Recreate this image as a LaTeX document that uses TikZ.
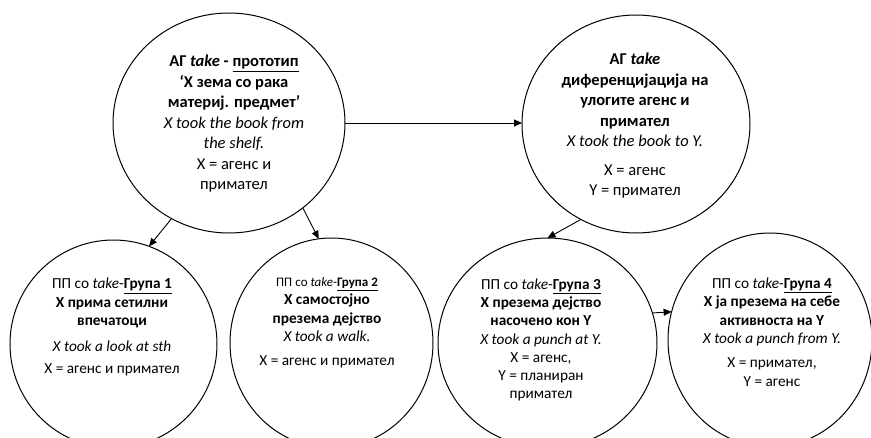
\documentclass[tikz,border=0pt]{standalone}
\usepackage{fontspec}
\setmainfont{Carlito}
\usetikzlibrary{shapes.geometric,arrows.meta}
\begin{document}
\begin{tikzpicture}[x=1pt,y=-1pt,
  bub/.style={draw, ellipse, line width=1pt, outer sep=0pt, inner sep=0pt},
  arr/.style={line width=0.9pt, -{Triangle[length=8pt,width=7pt]}},
  txtop/.style={align=center, font=\fontsize{16.5}{20.5}\selectfont, inner sep=0pt},
  txbot/.style={align=center, font=\fontsize{15.3}{18.3}\selectfont, inner sep=0pt}]
\useasboundingbox (0,0) rectangle (871,437);
\begin{scope}
\clip (0,0) rectangle (871,437);
\node[bub, minimum width=232pt, minimum height=220pt] (c1) at (229,123) {};
\node[bub, minimum width=228pt, minimum height=218pt] (c2) at (636,124) {};
\node[bub, minimum width=207pt, minimum height=208pt] (g1) at (113.5,344) {};
\node[bub, minimum width=203pt, minimum height=210pt] (g2) at (331.5,343) {};
\node[bub, minimum width=219pt, minimum height=210pt] (g3) at (547.5,343) {};
\node[bub, minimum width=204pt, minimum height=214pt] (g4) at (770,340) {};
\end{scope}

\node[txtop] (t1) at (234,124) {\textbf{АГ \textit{take} - \underline{прототип}}\\
\textbf{‘X зема со рака}\\
\textbf{материј. предмет’}\\
\textit{X took the book from}\\
\textit{the shelf.}\\
X = агенс и\\
примател};

\node[txtop] (t2) at (635,126) {\textbf{АГ \textit{take}}\\
\textbf{диференцијација на}\\
\textbf{улогите агенс и}\\
\textbf{примател}\\
\textit{X took the book to Y.}\\[8pt]
X = агенс\\
Y = примател};

\node[txbot] (t3) at (112,327) {ПП со \textit{take}-\textbf{\underline{Група 1}}\\
\textbf{X прима сетилни}\\
\textbf{впечатоци}\\[8pt]
\textit{X took a look at sth}\\[3pt]
X = агенс и примател};

\node[txbot] (t4) at (327,323) {{\fontsize{13}{18.3}\selectfont ПП со \textit{take}-\textbf{\underline{Група 2}}}\\
\textbf{X самостојно}\\
\textbf{презема дејство}\\
\textit{X took a walk.}\\[6pt]
X = агенс и примател};

\node[txbot] (t5) at (541,340) {ПП со \textit{take}-\textbf{\underline{Група 3}}\\
\textbf{X презема дејство}\\
\textbf{насочено кон Y}\\
\textit{X took a punch at Y.}\\
X = агенс,\\
Y = планиран\\
примател};

\node[txbot] (t6) at (772,332) {ПП со \textit{take}-\textbf{\underline{Група 4}}\\
\textbf{X ја презема на себе}\\
\textbf{активноста на Y}\\
\textit{X took a punch from Y.}\\[6pt]
X = примател,\\
Y = агенс};

\draw[arr] (c1.east) -- (c1.east -| c2.west);
\draw[arr] (c1.239) -- (g1.70.8);
\draw[arr] (c1.311.6) -- (g2.97.5);
\draw[arr] (c2.240.4) -- (g3.90);
\draw[arr] (g3.16.5) -- (g4.164.1);
\end{tikzpicture}
\end{document}
